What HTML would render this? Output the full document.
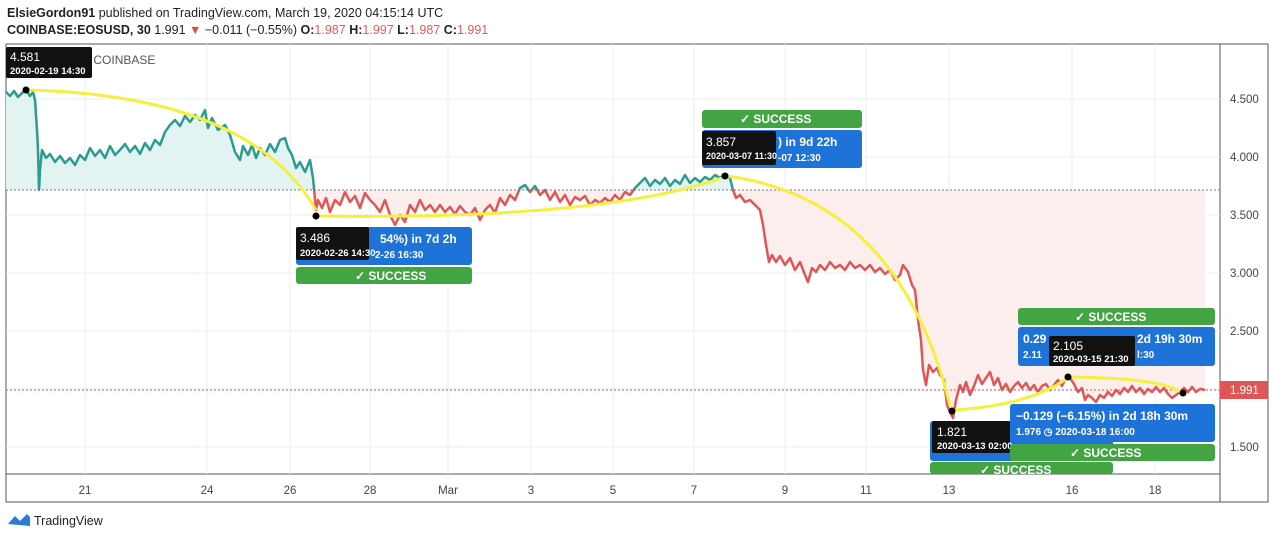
<!DOCTYPE html>
<html><head><meta charset="utf-8"><style>
body{margin:0;width:1274px;height:539px;overflow:hidden;background:#fff;font-family:"Liberation Sans",sans-serif}
svg text{font-family:"Liberation Sans",sans-serif}
</style></head><body>
<svg width="1274" height="539" xmlns="http://www.w3.org/2000/svg">
<defs>
<clipPath id="above"><rect x="6" y="44" width="1214" height="146"/></clipPath>
<clipPath id="below"><rect x="6" y="190" width="1214" height="284"/></clipPath>
<polygon id="fillp" points="6,190 6,92 10,96 14,91 18,97 22,93 26,90 30,96 33,92 35,100 37,130 38,150 39,190 40,170 42,150 46,158 50,154 55,162 60,156 65,163 70,158 75,165 80,155 85,160 90,148 95,156 100,150 105,158 110,146 115,155 120,150 125,144 130,152 135,146 140,154 145,143 150,150 155,140 160,145 165,132 170,125 175,120 180,126 185,116 190,122 195,115 200,120 205,110 208,128 212,118 218,130 225,125 230,135 235,152 240,160 243,146 248,155 252,145 256,158 260,148 265,155 270,144 275,152 280,140 285,138 288,148 292,155 296,168 300,162 305,172 310,160 313,178 316,210 318,200 322,208 326,198 330,212 335,200 340,205 345,192 350,202 355,196 360,208 365,193 370,200 375,205 380,212 385,200 390,215 395,225 400,215 405,222 410,205 415,212 420,200 425,210 430,205 435,212 440,205 445,212 450,207 455,214 460,206 465,212 470,215 475,208 480,220 485,210 490,205 495,213 500,198 505,205 510,195 515,200 520,188 525,185 530,192 535,186 540,195 545,190 550,200 555,192 560,202 565,195 570,205 575,197 580,200 585,196 590,205 595,200 600,203 605,198 610,202 615,195 620,200 625,192 630,195 635,188 640,183 645,178 650,186 655,180 660,184 665,178 670,186 675,180 680,184 685,175 690,183 695,178 700,182 705,177 710,180 715,175 720,178 725,174 730,178 733,190 736,198 740,195 745,202 750,200 755,205 760,210 763,225 766,245 769,262 772,255 776,262 780,256 785,265 790,258 795,270 800,262 805,275 808,282 812,268 816,272 820,265 825,270 830,262 835,268 840,265 845,270 850,262 855,268 860,265 865,270 870,265 875,272 880,268 885,274 890,270 895,280 900,275 903,265 908,272 912,285 915,290 918,320 921,340 923,370 926,385 929,365 933,372 937,368 940,375 944,380 947,405 950,412 953,418 956,400 960,385 963,392 966,382 970,395 974,386 978,375 982,384 986,378 990,372 994,385 998,378 1002,390 1006,384 1010,392 1014,386 1018,382 1022,388 1026,383 1030,390 1034,385 1038,392 1042,386 1046,384 1050,390 1054,385 1058,380 1062,386 1066,378 1070,378 1074,384 1078,392 1082,388 1085,400 1088,395 1092,398 1096,402 1100,395 1104,398 1108,392 1112,396 1116,390 1120,394 1124,388 1128,392 1132,386 1136,392 1140,388 1144,394 1148,389 1152,392 1156,387 1160,392 1164,388 1168,394 1172,398 1176,395 1180,392 1184,388 1188,392 1192,387 1196,392 1200,389 1205,390 1205,190"/>
<polyline id="ln" points="6,92 10,96 14,91 18,97 22,93 26,90 30,96 33,92 35,100 37,130 38,150 39,190 40,170 42,150 46,158 50,154 55,162 60,156 65,163 70,158 75,165 80,155 85,160 90,148 95,156 100,150 105,158 110,146 115,155 120,150 125,144 130,152 135,146 140,154 145,143 150,150 155,140 160,145 165,132 170,125 175,120 180,126 185,116 190,122 195,115 200,120 205,110 208,128 212,118 218,130 225,125 230,135 235,152 240,160 243,146 248,155 252,145 256,158 260,148 265,155 270,144 275,152 280,140 285,138 288,148 292,155 296,168 300,162 305,172 310,160 313,178 316,210 318,200 322,208 326,198 330,212 335,200 340,205 345,192 350,202 355,196 360,208 365,193 370,200 375,205 380,212 385,200 390,215 395,225 400,215 405,222 410,205 415,212 420,200 425,210 430,205 435,212 440,205 445,212 450,207 455,214 460,206 465,212 470,215 475,208 480,220 485,210 490,205 495,213 500,198 505,205 510,195 515,200 520,188 525,185 530,192 535,186 540,195 545,190 550,200 555,192 560,202 565,195 570,205 575,197 580,200 585,196 590,205 595,200 600,203 605,198 610,202 615,195 620,200 625,192 630,195 635,188 640,183 645,178 650,186 655,180 660,184 665,178 670,186 675,180 680,184 685,175 690,183 695,178 700,182 705,177 710,180 715,175 720,178 725,174 730,178 733,190 736,198 740,195 745,202 750,200 755,205 760,210 763,225 766,245 769,262 772,255 776,262 780,256 785,265 790,258 795,270 800,262 805,275 808,282 812,268 816,272 820,265 825,270 830,262 835,268 840,265 845,270 850,262 855,268 860,265 865,270 870,265 875,272 880,268 885,274 890,270 895,280 900,275 903,265 908,272 912,285 915,290 918,320 921,340 923,370 926,385 929,365 933,372 937,368 940,375 944,380 947,405 950,412 953,418 956,400 960,385 963,392 966,382 970,395 974,386 978,375 982,384 986,378 990,372 994,385 998,378 1002,390 1006,384 1010,392 1014,386 1018,382 1022,388 1026,383 1030,390 1034,385 1038,392 1042,386 1046,384 1050,390 1054,385 1058,380 1062,386 1066,378 1070,378 1074,384 1078,392 1082,388 1085,400 1088,395 1092,398 1096,402 1100,395 1104,398 1108,392 1112,396 1116,390 1120,394 1124,388 1128,392 1132,386 1136,392 1140,388 1144,394 1148,389 1152,392 1156,387 1160,392 1164,388 1168,394 1172,398 1176,395 1180,392 1184,388 1188,392 1192,387 1196,392 1200,389 1205,390"/>
</defs>
<text x="7" y="17" font-size="12.5" fill="#222"><tspan font-weight="bold">ElsieGordon91</tspan> published on TradingView.com, March 19, 2020 04:15:14 UTC</text>
<text x="7" y="34" font-size="12.5" fill="#222"><tspan font-weight="bold">COINBASE:EOSUSD, 30</tspan> 1.991 <tspan fill="#e04848">▼</tspan> −0.011 (−0.55%) <tspan font-weight="bold">O:</tspan><tspan fill="#d86060">1.987</tspan> <tspan font-weight="bold">H:</tspan><tspan fill="#d86060">1.997</tspan> <tspan font-weight="bold">L:</tspan><tspan fill="#d86060">1.987</tspan> <tspan font-weight="bold">C:</tspan><tspan fill="#d86060">1.991</tspan></text>
<rect x="6" y="44" width="1262" height="458" fill="none" stroke="#555" stroke-width="1"/>
<line x1="1220" y1="44" x2="1220" y2="502" stroke="#555"/>
<line x1="6" y1="474" x2="1220" y2="474" stroke="#555"/>
<g stroke="#e8edf2" stroke-width="1">
<line x1="85" y1="44" x2="85" y2="474"/><line x1="207" y1="44" x2="207" y2="474"/><line x1="290" y1="44" x2="290" y2="474"/><line x1="370" y1="44" x2="370" y2="474"/><line x1="448" y1="44" x2="448" y2="474"/><line x1="531" y1="44" x2="531" y2="474"/><line x1="613" y1="44" x2="613" y2="474"/><line x1="694" y1="44" x2="694" y2="474"/><line x1="785" y1="44" x2="785" y2="474"/><line x1="866" y1="44" x2="866" y2="474"/><line x1="949" y1="44" x2="949" y2="474"/><line x1="1072" y1="44" x2="1072" y2="474"/><line x1="1155" y1="44" x2="1155" y2="474"/>
<line x1="6" y1="99" x2="1220" y2="99"/><line x1="6" y1="157" x2="1220" y2="157"/><line x1="6" y1="215" x2="1220" y2="215"/><line x1="6" y1="273" x2="1220" y2="273"/><line x1="6" y1="331" x2="1220" y2="331"/><line x1="6" y1="389" x2="1220" y2="389"/><line x1="6" y1="447" x2="1220" y2="447"/>
</g>
<g font-size="11.5" fill="#444" text-anchor="middle">
<text x="85" y="494">21</text><text x="207" y="494">24</text><text x="290" y="494">26</text><text x="370" y="494">28</text><text x="448" y="494">Mar</text><text x="531" y="494">3</text><text x="613" y="494">5</text><text x="694" y="494">7</text><text x="785" y="494">9</text><text x="866" y="494">11</text><text x="949" y="494">13</text><text x="1072" y="494">16</text><text x="1155" y="494">18</text>
</g>
<use href="#fillp" fill="#e3f3f1" clip-path="url(#above)"/>
<use href="#fillp" fill="#fdeeee" clip-path="url(#below)"/>
<use href="#ln" fill="none" stroke-width="2.5" stroke-linejoin="round" stroke="#2a9d8f" clip-path="url(#above)"/>
<use href="#ln" fill="none" stroke-width="2.5" stroke-linejoin="round" stroke="#e05656" clip-path="url(#below)"/>
<line x1="6" y1="190" x2="1220" y2="190" stroke="#777" stroke-dasharray="2,2"/>
<line x1="6" y1="390" x2="1220" y2="390" stroke="#e05656" stroke-dasharray="2,2"/>
<text x="16" y="64" font-size="12" fill="#555">EOS/USD, 30  COINBASE</text>
<g fill="none" stroke="#f5f03c" stroke-width="3">
<path d="M26,90 Q250,95 316,210"/>
<path d="M316,216 Q600,220 722,178"/>
<path d="M727,176 Q900,200 950,406"/>
<path d="M954,410 Q1030,405 1066,379"/>
<path d="M1070,377 Q1160,378 1181,392"/>
</g>
<g fill="#000"><circle cx="26" cy="90" r="3.5"/><circle cx="316" cy="216" r="3.5"/><circle cx="725" cy="176" r="3.5"/><circle cx="952" cy="411" r="3.5"/><circle cx="1068" cy="377" r="3.5"/><circle cx="1183" cy="393" r="3.5"/></g>
<g font-size="12" font-weight="bold" fill="#fff">
<rect x="296" y="227" width="176" height="38" rx="3" fill="#1e73d8"/>
<text x="380" y="243">54%) in 7d 2h</text><text x="375" y="258" font-size="10">2-26  16:30</text>
<rect x="296" y="267" width="176" height="17" rx="3" fill="#43a443"/><text x="355" y="280">✓ SUCCESS</text>
<rect x="296" y="227" width="73" height="33" rx="2" fill="#111"/><text x="300" y="242" font-weight="normal">3.486</text><text x="300" y="256" font-size="9.5">2020-02-26 14:30</text>

<rect x="702" y="110" width="160" height="18" rx="3" fill="#43a443"/><text x="740" y="123">✓ SUCCESS</text>
<rect x="702" y="130" width="160" height="38" rx="3" fill="#1e73d8"/><text x="778" y="146">) in 9d 22h</text><text x="778" y="161" font-size="10">-07  12:30</text>
<rect x="702" y="131" width="74" height="34" rx="2" fill="#111"/><text x="706" y="146" font-weight="normal">3.857</text><text x="706" y="159" font-size="9">2020-03-07 11:30</text>

<rect x="930" y="421" width="183" height="40" rx="3" fill="#1e73d8"/>
<rect x="930" y="462" width="183" height="12" rx="3" fill="#43a443"/><text x="980" y="474">✓ SUCCESS</text>
<rect x="932" y="421" width="78" height="32" rx="2" fill="#111"/><text x="937" y="436" font-weight="normal">1.821</text><text x="937" y="449" font-size="9.5">2020-03-13 02:00</text>

<rect x="1018" y="308" width="197" height="17" rx="3" fill="#43a443"/><text x="1075" y="321">✓ SUCCESS</text>
<rect x="1018" y="327" width="197" height="39" rx="3" fill="#1e73d8"/><text x="1023" y="343">0.29</text><text x="1137" y="343">2d 19h 30m</text><text x="1023" y="358" font-size="10">2.11</text><text x="1137" y="358" font-size="10">l:30</text>
<rect x="1049" y="336" width="86" height="30" rx="2" fill="#111"/><text x="1053" y="350" font-weight="normal">2.105</text><text x="1053" y="362" font-size="9.5">2020-03-15 21:30</text>

<rect x="1010" y="444" width="205" height="17" rx="3" fill="#43a443"/><text x="1070" y="457">✓ SUCCESS</text>
<rect x="1010" y="404" width="205" height="38" rx="3" fill="#1e73d8"/><text x="1016" y="420">−0.129 (−6.15%) in 2d 18h 30m</text><text x="1016" y="435" font-size="10">1.976 ◷ 2020-03-18  16:00</text>

<rect x="6" y="47" width="86" height="31" rx="2" fill="#111"/><text x="10" y="61" font-weight="normal">4.581</text><text x="10" y="74" font-size="9.5">2020-02-19 14:30</text>
</g>
<text x="1230" y="103" font-size="11.5" fill="#444">4.500</text>
<text x="1230" y="161" font-size="11.5" fill="#444">4.000</text>
<text x="1230" y="219" font-size="11.5" fill="#444">3.500</text>
<text x="1230" y="277" font-size="11.5" fill="#444">3.000</text>
<text x="1230" y="335" font-size="11.5" fill="#444">2.500</text>
<text x="1230" y="451" font-size="11.5" fill="#444">1.500</text>
<rect x="1220" y="381" width="48" height="18" fill="#e05656"/>
<text x="1230" y="394" font-size="11.5" fill="#fff">1.991</text>
<path d="M8,524 l7,-8 l5,5 l7,-7 l3,3 v9 z" fill="#2e7bd6"/>
<text x="34" y="525" font-size="12.5" fill="#222">TradingView</text>
</svg>
</body></html>
